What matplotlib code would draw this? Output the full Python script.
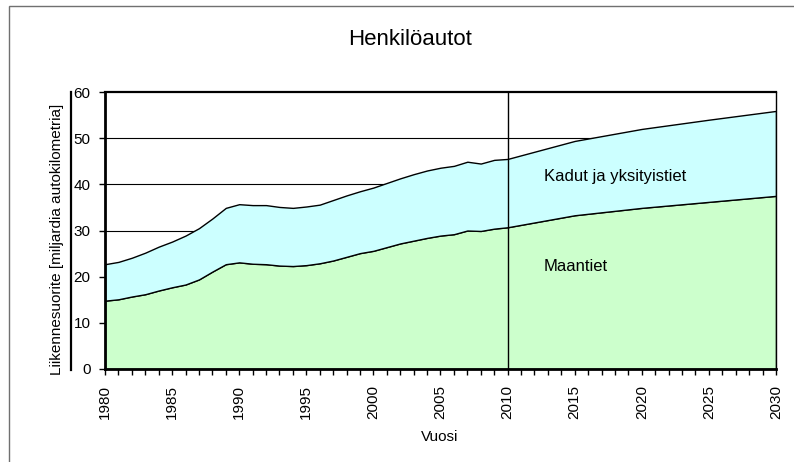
import numpy as np
import matplotlib
matplotlib.use("Agg")
import matplotlib.pyplot as plt
from matplotlib.lines import Line2D
from matplotlib.patches import Rectangle
from matplotlib.ticker import MultipleLocator

plt.rcParams['font.family'] = ['Liberation Sans', 'DejaVu Sans']

# data (billion vehicle-km)
years = list(range(1980, 2011)) + [2015, 2020, 2025, 2030]
maantiet = [14.8, 15.1, 15.7, 16.2, 17.0, 17.7, 18.3, 19.4, 21.1, 22.7,
            23.1, 22.8, 22.7, 22.4, 22.3, 22.5, 22.9, 23.5, 24.3, 25.1,
            25.6, 26.4, 27.2, 27.8, 28.4, 28.9, 29.2, 30.0, 29.9, 30.4,
            30.7, 33.3, 34.9, 36.2, 37.5]
kadut = [7.9, 8.1, 8.4, 9.0, 9.5, 9.9, 10.6, 11.1, 11.5, 12.2,
         12.6, 12.7, 12.8, 12.7, 12.6, 12.7, 12.7, 13.1, 13.3, 13.4,
         13.7, 13.9, 14.1, 14.4, 14.6, 14.7, 14.8, 14.9, 14.6, 14.9,
         14.8, 16.1, 17.1, 17.8, 18.4]
labels = ["Maantiet", "Kadut ja yksityistiet"]
xticks = list(range(1980, 2031, 5))
yticks = list(range(0, 61, 10))

fig = plt.figure(figsize=(7.94, 4.62), dpi=100)
ax = fig.add_axes([105 / 794, 1 - 369 / 462, (776 - 105) / 794, (369 - 92) / 462])

ax.stackplot(years, maantiet, kadut, colors=['#ccffcc', '#ccffff'],
             edgecolor='black', linewidth=1, zorder=2)
for y in yticks[1:-1]:
    ax.axhline(y, color='black', lw=0.8, zorder=1)
ax.axvline(2010, color='black', lw=1, zorder=3)

ax.set_xlim(1980, 2030)
ax.set_ylim(0, 60)
ax.set_xticks(xticks)
ax.set_xticklabels([str(x) for x in xticks], rotation=90, fontsize=11)
ax.xaxis.set_minor_locator(MultipleLocator(1))
ax.set_yticks(yticks)
ax.set_yticklabels([str(y) for y in yticks], fontsize=11)
ax.tick_params(axis='x', which='both', direction='out', length=4, width=1, pad=7.5)
ax.tick_params(axis='y', direction='out', length=4, width=1, pad=6.5)

for side in ['left', 'bottom']:
    ax.spines[side].set_linewidth(2)
ax.spines['top'].set_linewidth(1.6)
ax.spines['right'].set_linewidth(1)
for s in ax.spines.values():
    s.set_zorder(4)

ax.text(2012.7, 41.6, labels[1], fontsize=12, va='center')
ax.text(2012.7, 22.3, labels[0], fontsize=12, va='center')

fig.text(410 / 794, 1 - 45 / 462, "Henkilöautot", fontsize=16,
         ha='center', va='baseline')
fig.text(440 / 794, 1 - 437 / 462, "Vuosi", fontsize=11, ha='center', va='center')
fig.text(57 / 794, 1 - 239 / 462, "Liikennesuorite [miljardia autokilometria]",
         fontsize=11, rotation=90, ha='center', va='center')

# separator line next to the y tick labels and outer chart frame
fig.add_artist(Line2D([71 / 794, 71 / 794], [1 - 370 / 462, 1 - 92 / 462],
                      color='black', lw=1.6))
fig.add_artist(Rectangle((9 / 794, -0.1), 1.2, 1 - 6 / 462 + 0.1,
                         fill=False, edgecolor='#707070', lw=1))

fig.savefig("out.png", dpi=100)
